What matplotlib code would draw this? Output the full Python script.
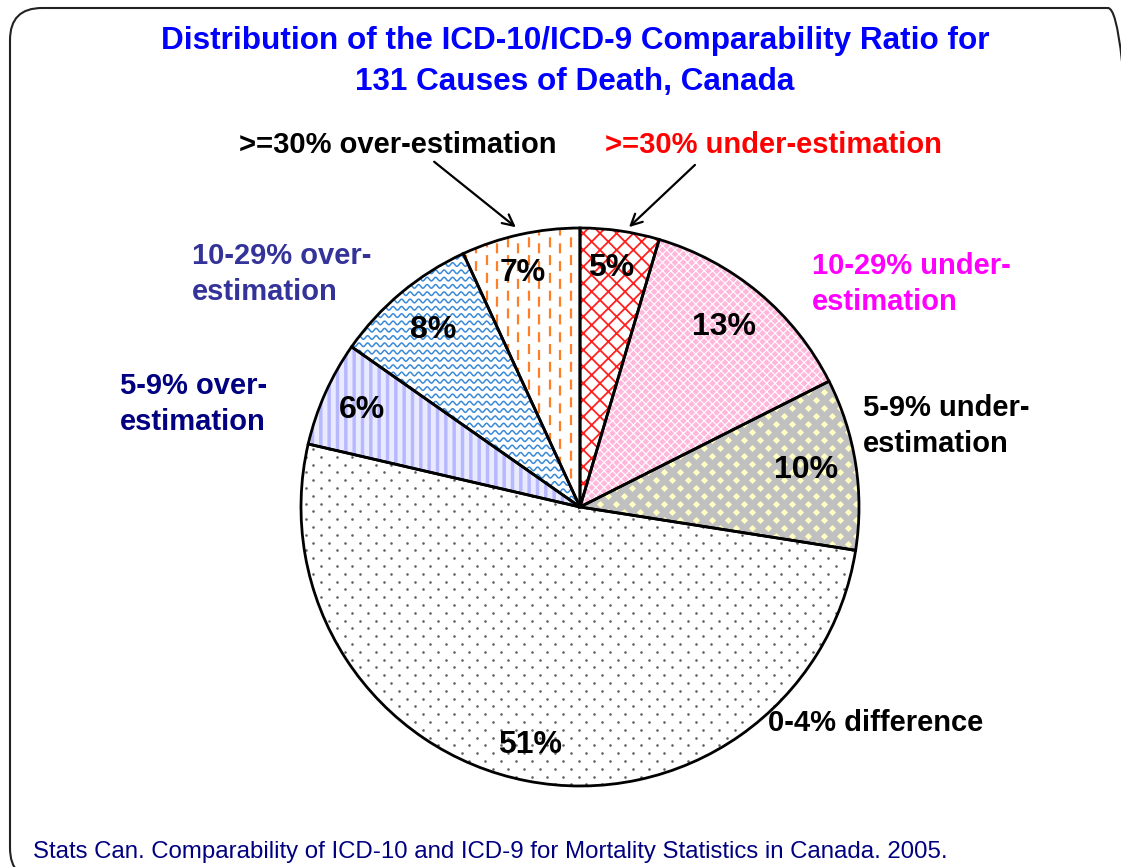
import numpy as np
import matplotlib.pyplot as plt
from matplotlib.patches import FancyBboxPatch

# counts out of 131 causes, clockwise from 12 o'clock
categories = ['>=30% under-estimation', '10-29% under-estimation', '5-9% under-estimation',
              '0-4% difference', '5-9% over-estimation', '10-29% over-estimation',
              '>=30% over-estimation']
counts = [6, 17, 13, 67, 8, 11, 9]
pct_labels = ['5%', '13%', '10%', '51%', '6%', '8%', '7%']

plt.rcParams['font.family'] = ['Liberation Sans', 'DejaVu Sans']

W, H = 1121, 867
fig = plt.figure(figsize=(W / 100, H / 100), dpi=100)
ax = fig.add_axes([0, 0, 1, 1])

def Y(y):
    # image row -> axis y
    return H - y

def reset_axes():
    ax.set_xlim(0, W)
    ax.set_ylim(0, H)
    ax.set_aspect('auto')
    ax.axis('off')

cx, cy, R = 580, Y(507), 279

# rounded frame
frame = FancyBboxPatch((10, Y(880)), 1130, 872, boxstyle='round,pad=0,rounding_size=32',
                       fc='none', ec='#222222', lw=1.5, zorder=0)
ax.add_patch(frame)

wedges, _ = ax.pie(counts, center=(cx, cy), radius=R, startangle=90, counterclock=False,
                   frame=True, wedgeprops=dict(lw=0))
reset_axes()

def hatch(w, face, col, pat, lw):
    w.set_facecolor(face)
    w.set_edgecolor(col)
    w.set_hatch(pat)
    if hasattr(w, 'set_hatch_linewidth'):
        w.set_hatch_linewidth(lw)

red_w, pink_w, yel_w, dot_w, lav_w, blue_w, org_w = wedges
hatch(red_w, 'white', '#ff2020', 'xx', 1.3)
hatch(pink_w, '#ffb8dc', 'white', 'xxxx', 0.8)
hatch(lav_w, '#eaeaff', '#b8b8ff', '||', 2.5)
yel_w.set_facecolor('#c0c0c0')
dot_w.set_facecolor('white')
blue_w.set_facecolor('white')
org_w.set_facecolor('white')

# diamond checker in the 10% slice
gx, gy = np.meshgrid(np.arange(560, 880, 16.0), np.arange(Y(560), Y(360), 8.0))
gx = gx + (np.round((gy - gy.min()) / 8.0) % 2) * 8
sc = ax.scatter(gx.ravel(), gy.ravel(), marker='D', s=13, c='#ffffc0', lw=0, zorder=2)
sc.set_clip_path(yel_w)

# dots in the 51% slice
gx, gy = np.meshgrid(np.arange(290, 880, 15.6), np.arange(Y(800), Y(430), 7.8))
gx = gx + (np.round((gy - gy.min()) / 7.8) % 2) * 7.8
sc = ax.scatter(gx.ravel(), gy.ravel(), marker='o', s=3.5, c='#606060', lw=0, zorder=2)
sc.set_clip_path(dot_w)

# waves in the 8% slice
xs = np.linspace(330, 600, 600)
for y0 in np.arange(Y(520), Y(240), 7.3):
    ln, = ax.plot(xs, y0 + 1.8 * np.sin(2 * np.pi * xs / 8.5), color='#3a8ad8', lw=1.1, zorder=2)
    ln.set_clip_path(blue_w)

# dashes in the 7% slice
for i, x0 in enumerate(np.arange(455, 585, 10.5)):
    off = 6 if i % 2 else 0
    ln, = ax.plot([x0, x0], [Y(520) + off, Y(220)], color='#ff7f27', lw=1.6,
                  dashes=(4.5, 3.5), zorder=2)
    ln.set_clip_path(org_w)

# outlines
ax.pie(counts, center=(cx, cy), radius=R, startangle=90, counterclock=False, frame=True,
       wedgeprops=dict(fill=False, ec='black', lw=2, zorder=3))
reset_axes()

# percent labels
pct_pos = [(611, 268), (724, 327), (806, 470), (530, 745), (362, 410), (433, 330), (523, 273)]
for t, (x, y) in zip(pct_labels, pct_pos):
    ax.text(x, Y(y), t, ha='center', va='center', fontsize=23, fontweight='bold', zorder=5)

ax.text(575, Y(41), 'Distribution of the ICD-10/ICD-9 Comparability Ratio for',
        ha='center', va='center', fontsize=22.7, fontweight='bold', color='#0000ff')
ax.text(575, Y(82), '131 Causes of Death, Canada',
        ha='center', va='center', fontsize=22.7, fontweight='bold', color='#0000ff')

lab = dict(fontsize=21, fontweight='bold', va='center', linespacing=1.4)
ax.text(398, Y(145), categories[6], ha='center', color='black', **lab)
ax.text(773, Y(145), categories[0], ha='center', color='#ff0000', **lab)
ax.text(192, Y(274), '10-29% over-\nestimation', ha='left', color='#333399', **lab)
ax.text(120, Y(404), '5-9% over-\nestimation', ha='left', color='#000080', **lab)
ax.text(812, Y(284), '10-29% under-\nestimation', ha='left', color='#ff00ff', **lab)
ax.text(863, Y(426), '5-9% under-\nestimation', ha='left', color='black', **lab)
ax.text(768, Y(723), '0-4% difference', ha='left', color='black', **lab)

arrow = dict(arrowstyle='->,head_length=0.8,head_width=0.4', color='black', lw=1.6)
ax.annotate('', xy=(518, Y(229)), xytext=(432, Y(160)), arrowprops=arrow, zorder=6)
ax.annotate('', xy=(627, Y(229)), xytext=(697, Y(163)), arrowprops=arrow, zorder=6)

ax.text(33, Y(852), 'Stats Can. Comparability of ICD-10 and ICD-9 for Mortality Statistics in Canada. 2005.',
        ha='left', va='center', fontsize=17.3, color='#000080')

fig.savefig('out.png', dpi=100)
